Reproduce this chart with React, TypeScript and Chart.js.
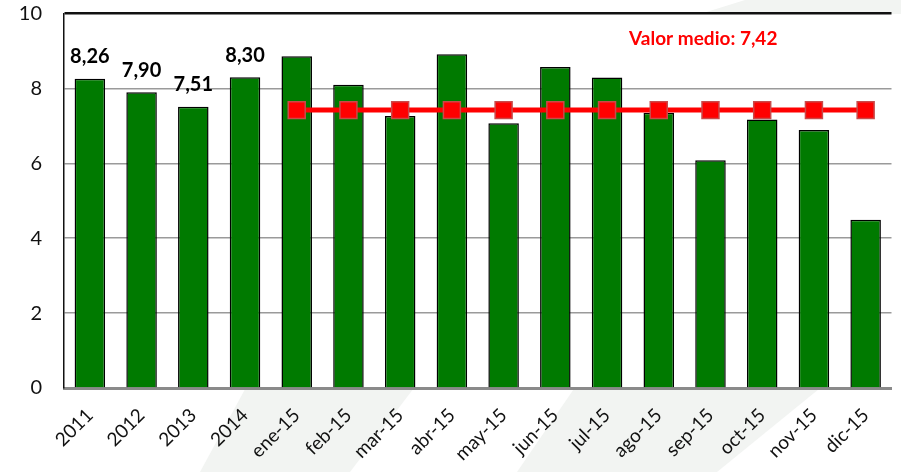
import React, { useEffect, useRef } from "react";
import { Chart, registerables } from "chart.js";

Chart.register(...registerables);

const categories = [
  "2011", "2012", "2013", "2014", "ene-15", "feb-15", "mar-15", "abr-15",
  "may-15", "jun-15", "jul-15", "ago-15", "sep-15", "oct-15", "nov-15", "dic-15",
];
const values = [
  8.26, 7.9, 7.51, 8.3, 8.86, 8.1, 7.26, 8.91,
  7.07, 8.57, 8.29, 7.35, 6.08, 7.17, 6.89, 4.49,
];
const meanValue = 7.42;
const meanStartIndex = 4;
const meanLine = categories.map((_, i) => (i >= meanStartIndex ? meanValue : null));
const labeledCount = 4;
const meanLabel = "Valor medio: 7,42";
const yMin = 0;
const yMax = 10;
const yStep = 2;

const FONT = "Lato, 'DejaVu Sans', sans-serif";

const fmt = (v: number) => v.toFixed(2).replace(".", ",");

const backgroundPlugin = {
  id: "bg",
  beforeDraw(chart: any) {
    const { ctx, chartArea, width, height } = chart;
    ctx.save();
    ctx.fillStyle = "#ffffff";
    ctx.fillRect(0, 0, width, height);
    ctx.fillStyle = "#f2f4f2";
    ctx.beginPath();
    ctx.moveTo(200, height);
    ctx.lineTo(350, height);
    ctx.lineTo(420, 380);
    ctx.lineTo(250, 380);
    ctx.closePath();
    ctx.fill();
    ctx.beginPath();
    ctx.moveTo(517, height);
    ctx.lineTo(717, height);
    ctx.lineTo(830, 380);
    ctx.lineTo(580, 380);
    ctx.closePath();
    ctx.fill();
    ctx.beginPath();
    ctx.moveTo(700, 14);
    ctx.lineTo(745, 0);
    ctx.lineTo(width, 0);
    ctx.lineTo(width, 14);
    ctx.closePath();
    ctx.fill();
    ctx.fillStyle = "#ffffff";
    ctx.fillRect(chartArea.left, chartArea.top, chartArea.right - chartArea.left, chartArea.bottom - chartArea.top);
    ctx.restore();
  },
};

const labelsPlugin = {
  id: "labels",
  afterDatasetsDraw(chart: any) {
    const { ctx } = chart;
    const meta = chart.getDatasetMeta(1);
    const xScale = chart.scales.x;
    const yScale = chart.scales.y;
    ctx.save();
    ctx.fillStyle = "#000000";
    ctx.font = `bold 20px ${FONT}`;
    ctx.textAlign = "center";
    ctx.textBaseline = "middle";
    for (let i = 0; i < labeledCount; i++) {
      const bar = meta.data[i];
      ctx.fillText(fmt(values[i]), bar.x, bar.y - 22);
    }
    ctx.fillStyle = "#ff0000";
    ctx.font = `bold 19px ${FONT}`;
    ctx.fillText(meanLabel, xScale.getPixelForValue(11.86), yScale.getPixelForValue(9.33));
    ctx.restore();
  },
};

export default function App() {
  const ref = useRef<HTMLCanvasElement>(null);

  useEffect(() => {
    if (!ref.current) return;
    const chart = new Chart(ref.current, {
      type: "bar",
      data: {
        labels: categories,
        datasets: [
          {
            type: "line",
            label: "Valor medio",
            data: meanLine as any,
            borderColor: "#ff0000",
            borderWidth: 5,
            backgroundColor: "#ff0000",
            pointStyle: "rect",
            pointRadius: 12,
            pointBackgroundColor: "#ff0000",
            pointBorderColor: "#c94a4a",
            pointBorderWidth: 1.5,
            spanGaps: false,
          } as any,
          {
            type: "bar",
            label: "Valor",
            data: values,
            backgroundColor: "#007a00",
            borderColor: "#000000",
            borderWidth: 1.5,
            barPercentage: 0.59,
            categoryPercentage: 1,
          },
        ],
      },
      options: {
        animation: false,
        responsive: false,
        layout: { padding: { top: 12, right: 2, left: 0, bottom: 0 } },
        plugins: {
          legend: { display: false },
          tooltip: { enabled: false },
        },
        scales: {
          x: {
            offset: true,
            grid: { display: false, drawTicks: false },
            border: { color: "#8a8a8a", width: 3 },
            ticks: {
              color: "#111",
              font: { family: FONT, size: 19 },
              maxRotation: 45,
              minRotation: 45,
              padding: 16,
              autoSkip: false,
            },
            afterFit(scale: any) {
              scale.height = 84;
              scale.paddingLeft = 0;
              scale.paddingRight = 0;
            },
          },
          y: {
            min: yMin,
            max: yMax,
            ticks: {
              stepSize: yStep,
              color: "#111",
              font: { family: FONT, size: 20 },
              padding: 22,
            },
            grid: {
              drawTicks: false,
              color: (c: any) => (c.tick && c.tick.value === yMax ? "#111111" : "#9a9a9a"),
              lineWidth: (c: any) => (c.tick && c.tick.value === yMax ? 2.5 : 1.5),
            },
            border: { color: "#111111", width: 1.5 },
            afterFit(scale: any) {
              scale.width = 64;
              scale.paddingTop = 0;
              scale.paddingBottom = 0;
            },
          },
        },
      },
      plugins: [backgroundPlugin, labelsPlugin],
    });
    return () => chart.destroy();
  }, []);

  return (
    <div style={{ position: "fixed", left: 0, top: 0, width: 901, height: 472, overflow: "hidden", background: "#fff" }}>
      <canvas ref={ref} width={905} height={472} style={{ width: 905, height: 472, display: "block" }} />
    </div>
  );
}
